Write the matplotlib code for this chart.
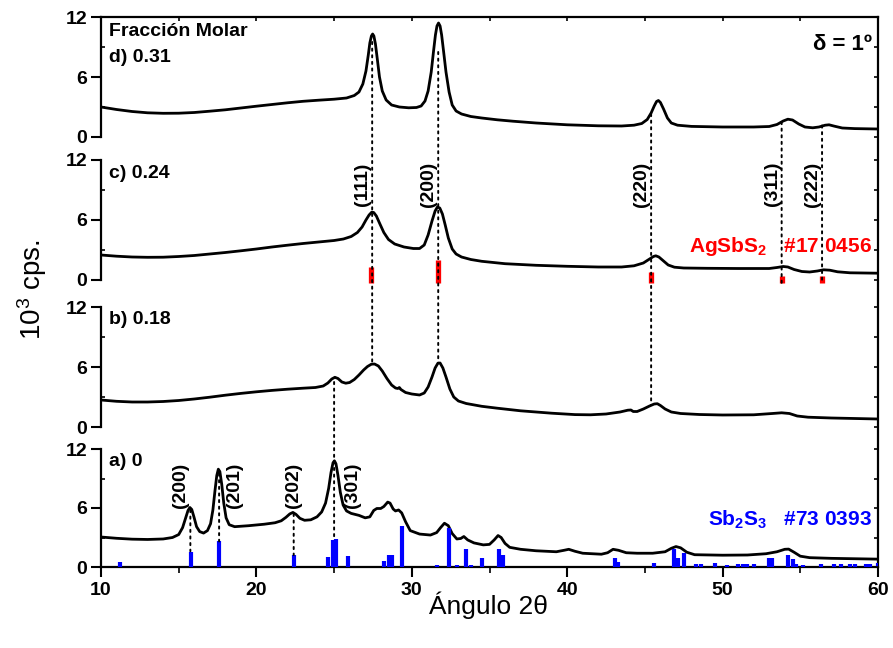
import numpy as np
import matplotlib
matplotlib.use("Agg")
import matplotlib.pyplot as plt
from matplotlib.patches import ConnectionPatch
from matplotlib.ticker import MultipleLocator

plt.rcParams['font.family'] = ['Liberation Sans', 'DejaVu Sans']
plt.rcParams['font.weight'] = 'bold'
plt.rcParams['mathtext.fontset'] = 'custom'
plt.rcParams['mathtext.rm'] = 'Liberation Sans'
plt.rcParams['mathtext.bf'] = 'Liberation Sans:bold'
plt.rcParams['mathtext.default'] = 'regular'

# d) 0.31  (2theta, 10^3 cps)
x_d = [10, 11, 12, 13, 14, 15, 16, 17, 18, 19, 20, 21, 22, 23, 24, 25, 25.8, 26.3, 26.6,
       26.85, 27.05, 27.2, 27.3, 27.4, 27.48, 27.56, 27.66, 27.78, 27.92, 28.1, 28.35,
       28.7, 29.2, 29.8, 30.3, 30.6, 30.85, 31.05, 31.25, 31.4, 31.52, 31.62, 31.72,
       31.82, 31.92, 32.05, 32.2, 32.4, 32.6, 32.85, 33.2, 33.8, 34.5, 35.5, 36.5, 38,
       40, 42, 43.5, 44.3, 44.8, 45.15, 45.4, 45.6, 45.75, 45.87, 46.0, 46.2, 46.45,
       46.7, 47.1, 48, 50, 52, 53, 53.5, 53.9, 54.2, 54.5, 54.9, 55.3, 55.8, 56.2, 56.6,
       56.85, 57.2, 57.7, 58.5, 60]
y_d = [3.0, 2.75, 2.55, 2.42, 2.37, 2.38, 2.45, 2.58, 2.72, 2.9, 3.08, 3.25, 3.42, 3.57,
       3.68, 3.78, 3.9, 4.15, 4.5, 5.3, 6.6, 8.2, 9.4, 10.1, 10.3, 10.1, 9.3, 7.8, 6.0,
       4.6, 3.7, 3.2, 3.0, 2.92, 2.95, 3.1, 3.6, 4.6, 6.5, 8.6, 10.2, 11.1, 11.4, 11.1,
       10.2, 8.5, 6.5, 4.5, 3.2, 2.6, 2.3, 2.05, 1.9, 1.72, 1.58, 1.4, 1.22, 1.12, 1.1,
       1.18, 1.35, 1.75, 2.4, 3.1, 3.55, 3.65, 3.45, 2.8, 1.9, 1.4, 1.18, 1.06, 1.0, 1.0,
       1.05, 1.25, 1.6, 1.78, 1.7, 1.3, 1.0, 0.92, 1.0, 1.18, 1.22, 1.08, 0.9, 0.84, 0.8]

# c) 0.24
x_c = [10, 11, 12, 13, 14, 15, 16, 17, 18, 19, 20, 21, 22, 23, 24, 25, 25.6, 26.1, 26.5,
       26.8, 27.05, 27.25, 27.42, 27.55, 27.72, 27.95, 28.2, 28.5, 28.9, 29.5, 30.1, 30.5,
       30.8, 31.05, 31.3, 31.5, 31.65, 31.8, 31.97, 32.15, 32.35, 32.6, 32.85, 33.2, 33.8,
       34.5, 36, 38, 40, 42, 43.5, 44.3, 44.9, 45.3, 45.55, 45.7, 45.9, 46.2, 46.5, 46.9,
       47.5, 49, 51, 53, 53.5, 53.9, 54.2, 54.6, 55.1, 55.6, 56.1, 56.5, 56.9, 57.4, 58.2,
       60]
y_c = [2.5, 2.38, 2.3, 2.27, 2.28, 2.35, 2.45, 2.6, 2.75, 2.92, 3.1, 3.3, 3.48, 3.65, 3.8,
       3.95, 4.1, 4.35, 4.75, 5.3, 6.0, 6.5, 6.78, 6.75, 6.4, 5.6, 4.75, 4.05, 3.6, 3.3,
       3.15, 3.15, 3.5, 4.5, 5.9, 6.9, 7.3, 7.2, 6.6, 5.5, 4.2, 3.1, 2.6, 2.3, 2.05,
       1.87, 1.63, 1.47, 1.37, 1.3, 1.3, 1.42, 1.7, 2.1, 2.35, 2.42, 2.3, 1.9, 1.5, 1.28,
       1.2, 1.17, 1.15, 1.15, 1.25, 1.35, 1.3, 1.05, 0.85, 0.8, 0.9, 1.02, 0.98, 0.82, 0.72,
       0.68]

# b) 0.18
x_b = [10, 11, 12, 13, 14, 15, 16, 17, 18, 19, 20, 21, 22, 23, 23.8, 24.3, 24.6, 24.85,
       25.05, 25.25, 25.5, 25.75, 26.0, 26.3, 26.6, 26.9, 27.15, 27.4, 27.6, 27.85, 28.1,
       28.4, 28.7, 28.95, 29.1, 29.2, 29.3, 29.6, 30.0, 30.5, 30.8, 31.05, 31.3, 31.5,
       31.68, 31.82, 32.0, 32.2, 32.45, 32.7, 33.0, 33.5, 34.5, 35.5, 37, 39, 40.5, 41.5,
       42.5, 43.4, 43.9, 44.1, 44.25, 44.5, 44.9, 45.3, 45.6, 45.8, 46.0, 46.3, 46.7,
       47.3, 48.5, 50, 52, 53.2, 53.8, 54.3, 54.8, 55.5, 57, 60]
y_b = [2.7, 2.57, 2.5, 2.5, 2.55, 2.65, 2.8, 2.98, 3.18, 3.36, 3.52, 3.66, 3.78, 3.88,
       3.95, 4.1, 4.4, 4.8, 4.97, 4.85, 4.5, 4.38, 4.45, 4.75, 5.2, 5.7, 6.05, 6.28, 6.3,
       6.1, 5.6, 4.85, 4.2, 3.9, 3.85, 3.95, 3.75, 3.45, 3.3, 3.2, 3.4, 4.0, 5.0, 5.9,
       6.38, 6.4, 5.9, 5.0, 3.8, 3.0, 2.6, 2.35, 2.07, 1.88, 1.62, 1.38, 1.24, 1.22,
       1.3, 1.5, 1.68, 1.7, 1.55, 1.55, 1.8, 2.1, 2.3, 2.33, 2.15, 1.8, 1.5,
       1.35, 1.25, 1.2, 1.22, 1.35, 1.42, 1.35, 1.1, 0.98, 0.9, 0.8]

# a) 0
x_a = [10, 11, 12, 13, 14, 14.6, 15.0, 15.25, 15.45, 15.6, 15.72, 15.84, 15.98, 16.15,
       16.35, 16.6, 16.85, 17.05, 17.2, 17.33, 17.45, 17.55, 17.65, 17.77, 17.9, 18.05,
       18.25, 18.6, 19.5, 20.5, 21.2, 21.6, 21.9, 22.15, 22.35, 22.55, 22.8, 23.1, 23.5,
       23.9, 24.2, 24.45, 24.65, 24.8, 24.93, 25.02, 25.12, 25.25, 25.4, 25.58, 25.8,
       26.1, 26.6, 27.0, 27.3, 27.55, 27.75, 28.0, 28.2, 28.45, 28.6, 28.8, 28.95, 29.15,
       29.35, 29.6, 29.9, 30.5, 31.2, 31.6, 31.85, 32.1, 32.35, 32.6, 32.9, 33.15, 33.35,
       33.6, 34.0, 34.6, 35.0, 35.3, 35.55, 35.75, 36.0, 36.3, 37, 38, 39.3, 39.8, 40.1,
       40.5, 41, 42.2, 42.6, 42.95, 43.3, 43.8, 44.5, 45.5, 46.3, 46.7, 47.0, 47.3, 47.7,
       48.2, 50, 51.6, 52.8, 53.5, 54.0, 54.25, 54.6, 55.0, 55.6, 57, 60]
y_a = [3.05, 2.92, 2.83, 2.8, 2.85, 3.0, 3.3, 4.0, 5.0, 5.75, 6.05, 5.85, 5.1, 4.1,
       3.6, 3.45, 3.7, 4.4, 5.8, 7.7, 9.3, 9.95, 9.7, 8.4, 6.5, 5.0,
       4.3, 4.1, 4.2, 4.35, 4.5, 4.7, 5.05, 5.4, 5.55, 5.35, 4.95, 4.75, 4.8,
       5.1, 5.6, 6.5, 8.0, 9.6, 10.6, 10.8, 10.5, 9.3, 7.6, 6.3, 5.7,
       5.45, 5.25, 5.0, 5.1, 5.75, 5.95, 5.95, 6.15, 6.6, 6.5, 5.9, 5.7, 5.8,
       5.5, 4.6, 3.7, 3.35, 3.25, 3.5, 4.0, 4.45, 4.2, 3.4, 2.85, 2.9, 3.1,
       2.75, 2.45, 2.25, 2.3, 2.75, 3.2, 3.0, 2.4, 2.0, 1.8, 1.65, 1.55, 1.7, 1.8,
       1.6, 1.4, 1.3, 1.45, 1.8, 1.7, 1.45, 1.4, 1.4, 1.55, 1.9, 2.08, 1.95, 1.5,
       1.25, 1.2, 1.22, 1.35, 1.55, 1.8, 1.82, 1.5, 1.1, 0.95, 0.88, 0.8]

# reference patterns
agsbs2_pos = [27.4, 31.7, 45.4, 53.8, 56.4]
agsbs2_int = [1.3, 2.0, 0.8, 0.35, 0.35]
agsbs2_hkl = ["(111)", "(200)", "(220)", "(311)", "(222)"]

sb2s3_pos = [11.2, 15.8, 17.6, 22.4, 24.6, 24.95, 25.15, 25.9, 28.2, 28.55, 28.75, 29.35,
             31.6, 32.4, 32.9, 33.5, 33.8, 34.5, 35.6, 35.9, 43.1, 43.3, 45.6, 46.9, 47.1,
             47.5, 48.3, 48.6, 49.5, 50.3, 51.0, 51.3, 51.6, 52.0, 53.0, 53.2, 54.2, 54.5,
             54.7, 55.2, 56.3, 57.2, 57.6, 58.2, 58.5, 59.2, 59.5, 60.0]
sb2s3_int = [0.55, 1.55, 2.6, 1.2, 1.05, 2.7, 2.8, 1.1, 0.6, 1.2, 1.25, 4.2,
             0.2, 4.0, 0.25, 1.8, 0.25, 0.9, 1.8, 1.2, 0.95, 0.55, 0.4, 1.8, 0.9,
             1.45, 0.35, 0.35, 0.4, 0.25, 0.35, 0.3, 0.35, 0.35, 0.9, 0.9, 1.2, 0.8,
             0.3, 0.25, 0.35, 0.3, 0.3, 0.3, 0.3, 0.3, 0.3, 0.4]
sb2s3_hkl = ["(200)", "(201)", "(202)", "(301)"]
sb2s3_hkl_pos = [15.1, 18.6, 22.4, 26.2]

panel_labels = ["d) 0.31", "c) 0.24", "b) 0.18", "a) 0"]

fig = plt.figure(figsize=(8.93, 6.48), dpi=100)
left, width = 101 / 893, 777 / 893
panel_px = [(17, 137), (160, 280), (307, 427), (449, 567)]

# outer frame: continuous right spine
frame = fig.add_axes([left, 1 - 567 / 648, width, 550 / 648])
frame.patch.set_visible(False)
frame.set_xticks([])
frame.set_yticks([])
for s in ['left', 'bottom', 'top']:
    frame.spines[s].set_visible(False)
frame.spines['right'].set_linewidth(1.6)

axes = []
curves = [(x_d, y_d), (x_c, y_c), (x_b, y_b), (x_a, y_a)]
for i, (top, bot) in enumerate(panel_px):
    ax = fig.add_axes([left, 1 - bot / 648, width, (bot - top) / 648])
    ax.patch.set_visible(False)
    ax.plot(curves[i][0], curves[i][1], color='k', lw=2.0,
            solid_joinstyle='round', solid_capstyle='round')
    ax.set_xlim(10, 60)
    ax.set_ylim(0, 12)
    ax.set_yticks([0, 6, 12])
    ax.yaxis.set_minor_locator(MultipleLocator(3))
    ax.tick_params(axis='y', which='major', direction='out', length=7, width=1.5,
                   labelsize=14, pad=3)
    ax.tick_params(axis='y', which='minor', direction='in', length=3, width=1.2)
    ax.spines['left'].set_linewidth(1.6)
    ax.spines['right'].set_visible(False)
    ax.spines['top'].set_visible(i == 0)
    ax.spines['top'].set_linewidth(1.6)
    ax.spines['bottom'].set_visible(i == 3)
    ax.spines['bottom'].set_linewidth(1.6)
    ax.xaxis.set_major_locator(MultipleLocator(10))
    ax.xaxis.set_minor_locator(MultipleLocator(5))
    if i == 0:
        ax.xaxis.set_ticks_position('top')
        ax.tick_params(axis='x', which='both', direction='in', length=3, width=1.2,
                       labeltop=False)
    elif i == 3:
        ax.tick_params(axis='x', which='major', direction='out', length=7, width=1.5,
                       labelsize=14, pad=4)
        ax.tick_params(axis='x', which='minor', direction='out', length=4, width=1.2)
    else:
        ax.tick_params(axis='x', which='both', bottom=False, labelbottom=False)
    tw = ax.twinx()
    tw.set_ylim(0, 12)
    tw.yaxis.set_major_locator(MultipleLocator(3))
    tw.tick_params(axis='y', direction='in', length=3, width=1.2, labelright=False)
    for s in tw.spines.values():
        s.set_visible(False)
    ax.text(10.5, 10.7 if i else 7.9, panel_labels[i], fontsize=14, fontweight='bold',
            va='center', ha='left')
    axes.append(ax)

ax_d, ax_c, ax_b, ax_a = axes

ax_d.text(10.5, 10.5, "Fracción Molar", fontsize=14, fontweight='bold', va='center')
ax_d.text(59.6, 9.2, "δ = 1º", fontsize=16, fontweight='bold', ha='right', va='center')

# AgSbS2 reference
ax_c.vlines(agsbs2_pos, -0.3, agsbs2_int, color='red', lw=3.8, clip_on=False, zorder=3)
for p, h in zip(agsbs2_pos, agsbs2_hkl):
    ax_c.text(p - 0.6, 9.6, h, rotation=90, fontsize=14, fontweight='heavy',
              ha='center', va='center')
ax_c.text(59.6, 3.3, r"AgSbS$_\mathbf{2}$   #17 0456", color='red', fontsize=15,
          fontweight='bold', ha='right', va='center')

# Sb2S3 reference
ax_a.vlines(sb2s3_pos, 0, sb2s3_int, color='#0000ff', lw=3.0, zorder=3)
for p, h in zip(sb2s3_hkl_pos, sb2s3_hkl):
    ax_a.text(p, 8.3, h, rotation=90, fontsize=14, fontweight='heavy',
              ha='center', va='center')
ax_a.text(59.6, 4.8, r"Sb$_\mathbf{2}$S$_\mathbf{3}$   #73 0393", color='#0000ff',
          fontsize=15, fontweight='bold', ha='right', va='center')

# dotted guide lines (x, panel from, y from, panel to, y to)
guides = [(27.45, 0, 9.5, 2, 6.3), (31.7, 0, 8.5, 2, 6.4), (45.4, 0, 2.3, 2, 2.2),
          (53.8, 0, 1.5, 1, -0.3), (56.4, 0, 1.15, 1, -0.3), (25.0, 2, 4.5, 3, 2.8),
          (15.75, 3, 5.8, 3, 1.6), (17.6, 3, 9.5, 3, 2.6), (22.4, 3, 5.4, 3, 1.2)]
for gx, pa, ya, pb, yb in guides:
    con = ConnectionPatch(xyA=(gx, ya), coordsA=axes[pa].transData,
                          xyB=(gx, yb), coordsB=axes[pb].transData,
                          color='k', lw=1.4, linestyle=(0, (1.1, 2.3)), zorder=5)
    fig.add_artist(con)

fig.text(0.5475, 1 - 605 / 648, "Ángulo 2θ", fontsize=19, fontweight='normal',
         ha='center', va='center')
fig.text(32 / 893, 1 - 290 / 648, r"10$^3$ cps.", fontsize=20, fontweight='normal',
         rotation=90, ha='center', va='center')

fig.savefig("out.png", dpi=100)
